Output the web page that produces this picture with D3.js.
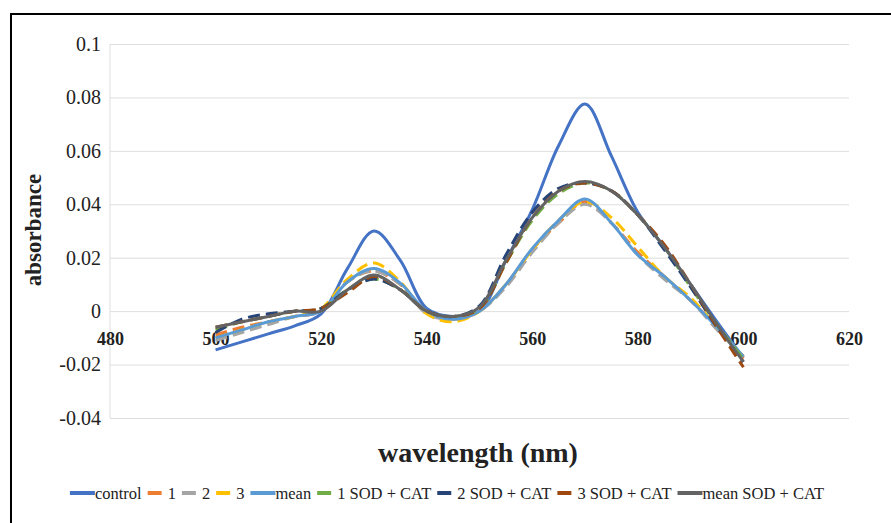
<!DOCTYPE html>
<html>
<head>
<meta charset="utf-8">
<script src="https://cdn.jsdelivr.net/npm/d3@7"></script>
<style>
  body { margin: 0; background: #fff; }
  svg { display: block; }
</style>
</head>
<body>
<svg id="chart" width="891" height="523"></svg>
<script>
// Absorption spectra, 500–600 nm
const wavelengths = [500,505,510,515,520,525,530,535,540,545,550,555,560,565,570,575,580,585,590,595,600];

const control   = [-0.0145,-0.0115,-0.0085,-0.0055,-0.001,0.016,0.030,0.019,0.001,-0.002,0.000,0.019,0.038,0.062,0.0775,0.058,0.037,0.024,0.010,-0.004,-0.0175];
const rep1      = [-0.009,-0.006,-0.004,-0.002,0.000,0.011,0.015,0.010,0.000,-0.003,0.000,0.010,0.023,0.033,0.041,0.033,0.022,0.013,0.004,-0.006,-0.018];
const rep2      = [-0.011,-0.008,-0.005,-0.002,0.000,0.011,0.015,0.010,-0.001,-0.003,0.000,0.009,0.022,0.033,0.040,0.033,0.021,0.012,0.004,-0.007,-0.017];
const rep3      = [-0.010,-0.007,-0.004,-0.002,0.001,0.012,0.018,0.011,-0.001,-0.004,0.000,0.010,0.023,0.034,0.041,0.035,0.024,0.013,0.005,-0.006,-0.017];
const meanRep   = [-0.010,-0.007,-0.004,-0.002,0.000,0.011,0.016,0.0105,0.000,-0.003,0.000,0.010,0.0235,0.034,0.042,0.033,0.021,0.013,0.004,-0.006,-0.017];
const sod1      = [-0.007,-0.004,-0.002,0.000,0.001,0.008,0.012,0.008,0.000,-0.002,0.001,0.018,0.034,0.044,0.048,0.045,0.036,0.024,0.009,-0.005,-0.018];
const sod2      = [-0.008,-0.003,-0.001,0.000,0.001,0.008,0.012,0.008,0.000,-0.002,0.002,0.021,0.037,0.046,0.048,0.045,0.036,0.023,0.009,-0.006,-0.019];
const sod3      = [-0.006,-0.004,-0.002,0.000,0.001,0.007,0.013,0.008,0.000,-0.002,0.001,0.018,0.035,0.045,0.048,0.045,0.036,0.025,0.010,-0.006,-0.021];
const meanSod   = [-0.006,-0.004,-0.002,0.000,0.000,0.008,0.0135,0.008,0.000,-0.002,0.0015,0.019,0.035,0.045,0.0485,0.045,0.036,0.024,0.010,-0.005,-0.019];

const seriesNames = ["control","1","2","3","mean","1 SOD + CAT","2 SOD + CAT","3 SOD + CAT","mean SOD + CAT"];
const seriesValues = [control, rep1, rep2, rep3, meanRep, sod1, sod2, sod3, meanSod];

const xTicks = [480,500,520,540,560,580,600,620];
const yTicks = [-0.04,-0.02,0,0.02,0.04,0.06,0.08,0.1];
const yTickLabels = ["-0.04","-0.02","0","0.02","0.04","0.06","0.08","0.1"];

// Styling per series
const colors = ["#4472C4","#ED7D31","#A5A5A5","#FFC000","#5B9BD5","#70AD47","#264478","#9E480E","#636363"];
const dashed = [false,true,true,true,false,true,true,true,false];

const svg = d3.select("#chart");
const W = 891, H = 523;
const plotLeft = 110, plotRight = 849, plotTop = 44, plotBottom = 418;
const serif = "'Liberation Serif', 'DejaVu Serif', serif";

const x = d3.scaleLinear().domain([480, 620]).range([plotLeft, plotRight]);
const y = d3.scaleLinear().domain([-0.04, 0.1]).range([plotBottom, plotTop]);

// Outer frame (left and top edges)
svg.append("path")
  .attr("d", `M11,${H} V14 H${W}`)
  .attr("fill", "none").attr("stroke", "#000").attr("stroke-width", 2);

// Horizontal gridlines + y tick labels
const yAxis = d3.axisLeft(y)
  .tickValues(yTicks)
  .tickFormat((d, i) => yTickLabels[i])
  .tickSize(-(plotRight - plotLeft))
  .tickPadding(9);
const gy = svg.append("g").attr("transform", `translate(${plotLeft},0)`).call(yAxis);
gy.select(".domain").remove();
gy.selectAll(".tick line").attr("stroke", "#DEDEDE").attr("stroke-width", 1);
gy.selectAll(".tick text")
  .attr("font-family", serif).attr("font-size", 20).attr("fill", "#222");

// Vertical value axis line
svg.append("line")
  .attr("x1", plotLeft).attr("x2", plotLeft).attr("y1", plotTop).attr("y2", plotBottom)
  .attr("stroke", "#DEDEDE").attr("stroke-width", 1);

// Category axis at y = 0
const xAxis = d3.axisBottom(x).tickValues(xTicks).tickSize(0).tickPadding(21).tickFormat(d3.format("d"));
const gx = svg.append("g").attr("transform", `translate(0,${y(0)})`).call(xAxis);
gx.select(".domain").remove();
gx.selectAll(".tick text")
  .attr("font-family", serif).attr("font-size", 18).attr("font-weight", "bold").attr("fill", "#222");

// Spectra
const line = d3.line()
  .x((d, i) => x(wavelengths[i]))
  .y(d => y(d))
  .curve(d3.curveCatmullRom.alpha(0.5));

seriesValues.forEach((vals, k) => {
  svg.append("path")
    .datum(vals)
    .attr("d", line)
    .attr("fill", "none")
    .attr("stroke", colors[k])
    .attr("stroke-width", 3)
    .attr("stroke-linejoin", "round")
    .attr("stroke-dasharray", dashed[k] ? "12,6" : null);
});

// Axis titles
svg.append("text")
  .attr("transform", "translate(41,230) rotate(-90)")
  .attr("text-anchor", "middle")
  .attr("font-family", serif).attr("font-weight", "bold").attr("font-size", 23)
  .attr("fill", "#222")
  .text("absorbance");

svg.append("text")
  .attr("x", 478).attr("y", 462)
  .attr("text-anchor", "middle")
  .attr("font-family", serif).attr("font-weight", "bold").attr("font-size", 28)
  .attr("fill", "#222")
  .text("wavelength (nm)");

// Legend
const legend = svg.append("g");
let cx = 0;
seriesNames.forEach((name, k) => {
  const symLen = dashed[k] ? 14 : 25;
  const gapBefore = dashed[k] ? 6 : 0;
  legend.append("line")
    .attr("x1", cx).attr("x2", cx + symLen).attr("y1", 0).attr("y2", 0)
    .attr("stroke", colors[k]).attr("stroke-width", 4);
  cx += symLen + gapBefore;
  const t = legend.append("text")
    .attr("x", cx).attr("y", 5.5)
    .attr("font-family", serif).attr("font-size", 16.5).attr("fill", "#222")
    .text(name);
  cx += t.node().getComputedTextLength() + 6;
});
const legendWidth = cx - 6;
legend.attr("transform", `translate(${447 - legendWidth / 2},493)`);
</script>
</body>
</html>
